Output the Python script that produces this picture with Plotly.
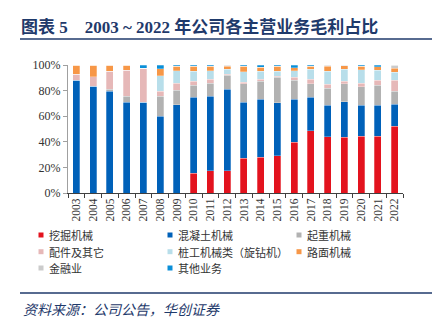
import plotly.graph_objects as go

# Gross-profit share by business line, 2003-2022 (%)
years = [str(y) for y in range(2003, 2023)]
excavator = [0, 0, 0, 0, 0, 0, 0, 15.3, 17.4, 17.4, 27.3, 27.8, 29.1, 39.8, 48.6, 44.0, 43.4, 44.2, 44.2, 52.0]
concrete = [88.0, 83.3, 79.6, 71.0, 71.0, 60.1, 69.0, 59.4, 58.3, 63.8, 43.7, 45.3, 41.4, 33.6, 26.4, 24.7, 27.9, 24.5, 24.3, 17.2]
crane = [0, 0, 1.6, 4.7, 0, 15.3, 11.4, 9.6, 10.2, 10.9, 14.4, 14.3, 20.1, 14.8, 10.2, 13.3, 13.9, 14.3, 15.8, 10.2]
parts = [4.7, 7.6, 13.8, 20.1, 26.6, 4.2, 5.5, 3.1, 3.1, 0.8, 1.1, 1.4, 0.8, 2.4, 3.6, 2.9, 2.2, 2.9, 3.6, 8.8]
piling = [0, 0, 0, 0, 0, 12.0, 9.6, 7.6, 6.5, 3.7, 8.3, 6.5, 3.9, 4.9, 7.8, 10.4, 9.2, 10.4, 7.9, 6.0]
road = [7.3, 9.1, 5.0, 4.2, 0, 5.5, 3.4, 3.9, 3.4, 2.3, 4.1, 3.1, 3.9, 2.4, 2.3, 3.9, 2.9, 2.6, 2.9, 3.4]
finance = [0, 0, 0, 0, 0, 0, 0, 0, 0, 1.1, 0, 0, 0, 0, 0, 0.8, 0.5, 0, 0, 2.4]
other = [0, 0, 0, 0, 2.4, 2.9, 1.1, 1.1, 1.1, 0, 1.1, 1.6, 0.8, 2.1, 1.1, 0, 0, 1.1, 1.3, 0]

y_ticks = [0, 20, 40, 60, 80, 100]
y_labels = [f"{v}%" for v in y_ticks]

series = [
    ("挖掘机械", excavator, "#E3131E"),
    ("混凝土机械", concrete, "#0061B9"),
    ("起重机械", crane, "#B2B2B2"),
    ("配件及其它", parts, "#E6B8B8"),
    ("桩工机械类（旋钻机）", piling, "#B8DEEA"),
    ("路面机械", road, "#F79747"),
    ("金融业", finance, "#CBCBCB"),
    ("其他业务", other, "#0A8FD8"),
]

W, H = 446, 325
L, R, T, B = 68, 403, 65, 193  # plot area in pixels

def px(x):
    return (x - L) / (R - L)

def py(y):
    return (B - y) / (B - T)

NAVY = "#1F3A6B"
SERIF = "Liberation Serif, Times New Roman, Noto Sans CJK SC, serif"
CJK = "Noto Sans CJK SC, sans-serif"

fig = go.Figure()
for name, vals, color in series:
    fig.add_trace(go.Bar(
        x=years, y=vals, name=name,
        marker=dict(color=color, line=dict(color="rgba(255,255,255,0.45)", width=0.6)),
        showlegend=False,
    ))

shapes = []
annotations = []

# legend laid out in three columns
leg_cols = [(41, 47), (170, 176), (299, 305)]
leg_rows = [235, 251.7, 268]
for i, (name, _, color) in enumerate(series):
    cx, tx = leg_cols[i % 3]
    cy = leg_rows[i // 3]
    shapes.append(dict(type="rect", xref="paper", yref="paper",
                       x0=px(cx - 2.5), x1=px(cx + 2.5), y0=py(cy + 2.5), y1=py(cy - 2.5),
                       fillcolor=color, line=dict(width=0)))
    annotations.append(dict(text=name, xref="paper", yref="paper",
                            x=px(tx), y=py(cy), xanchor="left", yanchor="middle",
                            showarrow=False, font=dict(family=CJK, size=11, color="#333333")))

# heading and rules
annotations.append(dict(text="<b>图表 5&nbsp;&nbsp;&nbsp;&nbsp;2003 ~ 2022 年公司各主营业务毛利占比</b>",
                        xref="paper", yref="paper", x=px(19), y=py(26.5),
                        xanchor="left", yanchor="middle", showarrow=False,
                        font=dict(family=SERIF, size=17, color=NAVY)))
shapes.append(dict(type="line", xref="paper", yref="paper", x0=px(20), x1=px(432),
                   y0=py(39), y1=py(39), line=dict(color=NAVY, width=1.5)))
shapes.append(dict(type="line", xref="paper", yref="paper", x0=px(20), x1=px(432),
                   y0=py(293), y1=py(293), line=dict(color=NAVY, width=1.5)))
annotations.append(dict(text="资料来源：公司公告，华创证券",
                        xref="paper", yref="paper", x=px(21), y=py(309),
                        xanchor="left", yanchor="middle", showarrow=False,
                        font=dict(family=CJK, size=14, color=NAVY, style="italic")))

fig.update_layout(
    barmode="stack",
    bargap=0.58,
    width=W, height=H,
    margin=dict(l=L, r=W - R, t=T, b=H - B, pad=0),
    paper_bgcolor="white", plot_bgcolor="white",
    shapes=shapes, annotations=annotations,
    showlegend=False,
    xaxis=dict(
        type="category", tickangle=-90, showline=True, linecolor="#404040", linewidth=1,
        ticks="outside", tickson="boundaries", ticklen=4, tickcolor="#404040",
        tickfont=dict(family=SERIF, size=11.5, color="#333333"), showgrid=False,
    ),
    yaxis=dict(
        range=[0, 100], tickmode="array", tickvals=y_ticks, ticktext=y_labels,
        showline=True, linecolor="#A0A0A0", linewidth=1.2,
        ticks="outside", ticklen=4, tickcolor="#A0A0A0", showgrid=False, zeroline=False,
        tickfont=dict(family=SERIF, size=12, color="#333333"),
    ),
)

fig.write_html("out.html")
